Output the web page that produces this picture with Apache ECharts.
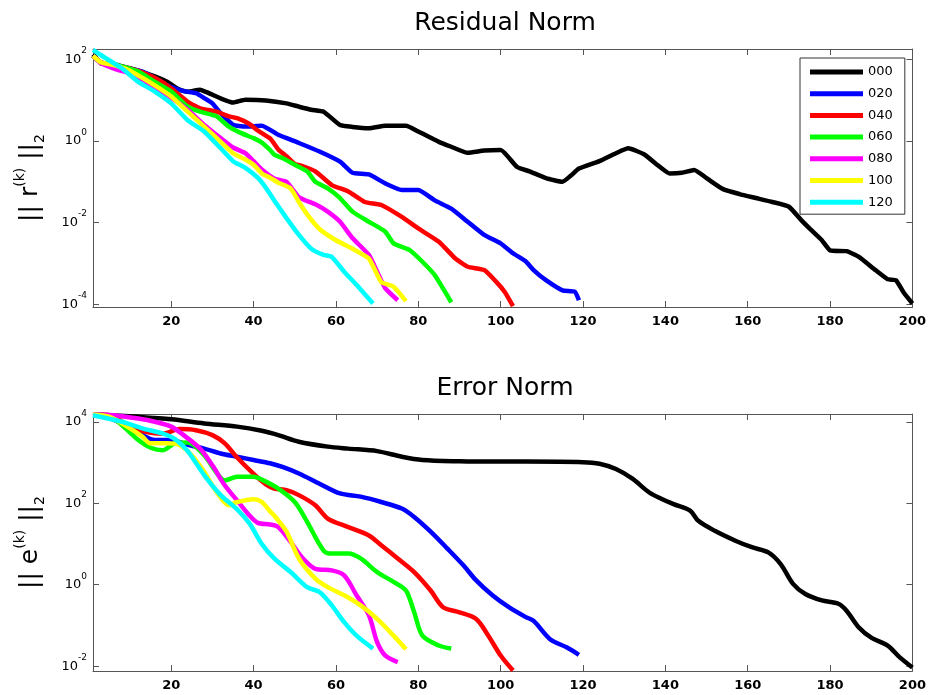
<!DOCTYPE html>
<html>
<head>
<meta charset="utf-8">
<script src="https://cdn.jsdelivr.net/npm/echarts@6/dist/echarts.min.js"></script>
<style>html,body{margin:0;padding:0;background:#fff}#c{width:929px;height:695px}</style>
</head>
<body>
<div id="c"></div>
<script>
const seriesNames = ['000','020','040','060','080','100','120'];
const seriesColors = ['#000000','#0000ff','#ff0000','#00ff00','#ff00ff','#ffff00','#00ffff'];
const xTicks = [20,40,60,80,100,120,140,160,180,200];
const resTicks = [1e-4,1e-2,1,1e2];
const errTicks = [1e-2,1,1e2,1e4];

// Residual norm ||r(k)||2 : [iteration, value]
const res000 = [[1,130],[2,100],[3,79],[5,79],[8,66],[12,52],[16,38],[19,28],[22,18],[24,16],[27,18],[29,15],[32,11],[35,8.7],[38,10.2],[43,9.8],[48,8.3],[51,6.9],[54,5.8],[57,5.2],[61,2.45],[64,2.2],[68,2.05],[72,2.35],[77,2.35],[80,1.7],[85,0.95],[88,0.72],[92,0.51],[96,0.58],[100,0.60],[104,0.23],[107,0.18],[111,0.123],[115,0.10],[117,0.14],[119,0.21],[124,0.32],[128,0.50],[131,0.66],[135,0.46],[138,0.26],[141,0.16],[144,0.166],[147,0.195],[150,0.123],[154,0.066],[158,0.050],[162,0.040],[166,0.032],[170,0.0245],[173,0.0115],[175,0.0072],[178,0.0037],[180,0.0021],[184,0.0020],[187,0.00145],[191,0.00069],[194,0.00041],[196,0.00039],[198,0.000186],[200,0.000105]];
const res020 = [[1,120],[3,83],[6,76],[10,60],[13,50],[16,35],[19,23],[23,16.6],[26,14.8],[28,11.2],[30,8.3],[32,4.8],[35,2.5],[38,2.24],[42,2.35],[46,1.41],[51,0.89],[56,0.55],[61,0.31],[64,0.166],[68,0.151],[72,0.091],[76,0.063],[80,0.063],[84,0.035],[88,0.022],[92,0.0105],[96,0.0050],[100,0.0031],[103,0.00178],[106,0.00115],[108,0.00069],[111,0.00039],[115,0.00022],[118,0.000204],[119,0.000126]];
const res040 = [[1,120],[3,83],[6,76],[9,63],[12,52],[16,35],[20,19.5],[24,9.1],[27,6.3],[31,5.2],[34,4.0],[36,3.6],[39,2.6],[41,1.8],[44,1.15],[46,0.62],[48,0.42],[50,0.275],[52,0.24],[55,0.18],[59,0.083],[63,0.058],[67,0.032],[71,0.027],[76,0.0138],[80,0.0072],[85,0.0034],[89,0.00132],[92,0.00083],[96,0.00069],[99,0.00035],[101,0.0002],[103,0.00009]];
const res060 = [[1,120],[3,83],[6,76],[9,63],[12,50],[16,28],[20,16.2],[24,6.9],[27,5.2],[31,4.0],[34,2.24],[37,1.55],[40,1.17],[42,0.91],[44,0.60],[45,0.46],[47,0.38],[50,0.26],[53,0.18],[55,0.10],[58,0.069],[61,0.040],[64,0.0186],[68,0.0105],[72,0.006],[74,0.0031],[78,0.0021],[81,0.0011],[84,0.00052],[86,0.000245],[88,0.000112]];
const res080 = [[1,120],[3,80],[7,55],[10,45],[12,35],[15,22],[17,16.2],[19,13.2],[24,5.8],[28,2.45],[32,1.17],[35,0.69],[38,0.50],[40,0.32],[42,0.20],[45,0.12],[48,0.10],[51,0.042],[55,0.028],[58,0.0186],[61,0.0105],[64,0.0042],[68,0.00162],[70,0.00063],[72,0.000245],[75,0.000126]];
const res100 = [[1,120],[3,83],[6,72],[9,58],[12,40],[16,23],[20,12.3],[24,5.2],[28,2.24],[32,0.95],[35,0.50],[38,0.35],[40,0.26],[42,0.16],[44,0.126],[46,0.095],[49,0.069],[51,0.032],[53,0.016],[56,0.007],[60,0.0037],[64,0.0023],[68,0.00132],[71,0.00035],[74,0.00027],[77,0.00012]];
const res120 = [[1,170],[3,125],[5,93],[8,60],[12,28],[16,16.2],[20,8.3],[24,3.2],[28,1.7],[32,0.66],[35,0.32],[38,0.22],[41,0.126],[43,0.071],[45,0.035],[48,0.0129],[51,0.0050],[54,0.0023],[57,0.00162],[59,0.00145],[62,0.00063],[65,0.0003],[69,0.000105]];

// Error norm ||e(k)||2 : [iteration, value]
const err000 = [[1,15100],[3,14800],[12,13200],[20,11500],[28,9100],[36,7600],[42,6000],[46,4700],[51,3240],[58,2450],[63,2190],[70,1900],[76,1380],[81,1150],[90,1070],[98,1050],[106,1050],[120,1020],[124,930],[128,690],[132,400],[136,186],[139,129],[142,95],[146,66],[148,37],[152,21],[157,12],[161,8.3],[165,6.2],[168,3.2],[171,1.05],[174,0.59],[178,0.41],[182,0.34],[184,0.23],[187,0.089],[190,0.05],[194,0.032],[197,0.0162],[200,0.0093]];
const err020 = [[1,15100],[3,14500],[8,9100],[13,4700],[16,3550],[20,3550],[24,2700],[28,2190],[32,1660],[36,1380],[40,1150],[44,955],[47,776],[51,537],[56,302],[61,174],[66,145],[71,107],[76,74],[79,46],[83,20],[87,7.8],[91,2.95],[94,1.29],[98,0.55],[102,0.28],[106,0.162],[108,0.129],[112,0.046],[116,0.029],[119,0.019]];
const err040 = [[1,15100],[5,14500],[10,7600],[14,5600],[18,5100],[22,6600],[26,6200],[30,4700],[33,2950],[36,1320],[40,525],[43,290],[45,230],[48,209],[51,158],[55,89],[58,42],[63,26],[68,16.2],[71,9.3],[75,4.4],[79,2.04],[83,0.72],[86,0.28],[90,0.21],[94,0.145],[97,0.056],[100,0.0182],[103,0.0078]];
const err060 = [[1,15100],[5,13800],[8,8300],[12,3550],[15,2300],[18,2000],[21,3000],[24,3100],[28,1510],[31,560],[33,363],[36,447],[40,447],[42,380],[46,229],[50,107],[53,35],[57,6.9],[59,5.8],[63,5.8],[66,4.4],[70,2.04],[74,1.17],[77,0.72],[79,0.21],[81,0.056],[85,0.032],[88,0.027]];
const err080 = [[1,15100],[6,14500],[12,12000],[16,10000],[20,7600],[23,4700],[27,2190],[30,850],[33,275],[36,117],[39,50],[41,33],[44,30],[46,26],[49,11.2],[52,4.4],[55,2.45],[59,2.24],[62,1.7],[65,0.55],[68,0.178],[70,0.039],[72,0.0182],[75,0.0126]];
const err100 = [[1,15100],[5,13200],[10,6900],[13,4300],[15,2950],[19,2950],[22,2700],[25,1510],[28,590],[31,190],[34,89],[36,107],[40,126],[42,107],[44,63],[45,50],[48,20],[51,4.4],[55,1.41],[58,0.87],[62,0.55],[66,0.31],[70,0.145],[74,0.056],[77,0.026]];
const err120 = [[1,14500],[8,10000],[13,6900],[18,5100],[21,3700],[24,1900],[28,490],[32,158],[36,71],[39,32],[42,10],[45,4.4],[49,2.04],[53,0.87],[56,0.66],[59,0.31],[62,0.12],[65,0.056],[69,0.027]];

const resSeries = [res000,res020,res040,res060,res080,res100,res120];
const errSeries = [err000,err020,err040,err060,err080,err100,err120];

const FONT = 'DejaVu Sans';
const axisColor = '#555';

function powLabel(v){
  const e = Math.round(Math.log10(v));
  return '{b|10}{s|' + e + '}';
}
const powRich = {
  b:{fontSize:13, fontFamily:FONT, color:'#000', lineHeight:26},
  s:{fontSize:9, fontFamily:FONT, color:'#000', lineHeight:9, verticalAlign:'top'}
};

function xAxes(grid){
  return [
    {type:'value', gridIndex:grid, min:1, max:200, position:'bottom',
     axisLine:{show:true, onZero:false, lineStyle:{color:axisColor, width:1}},
     axisTick:{show:true, inside:true, length:6, customValues:xTicks, lineStyle:{color:axisColor}},
     axisLabel:{show:true, customValues:xTicks, margin:8, fontSize:13, fontWeight:'bold', fontFamily:FONT, color:'#000'},
     splitLine:{show:false}},
    {type:'value', gridIndex:grid, min:1, max:200, position:'top',
     axisLine:{show:true, onZero:false, lineStyle:{color:axisColor, width:1}},
     axisTick:{show:true, inside:true, length:6, customValues:xTicks, lineStyle:{color:axisColor}},
     axisLabel:{show:false},
     splitLine:{show:false}}
  ];
}
function yAxes(grid, mn, mx, ticks, nameRich){
  return [
    {type:'log', logBase:10, gridIndex:grid, min:mn, max:mx, position:'left',
     name:nameRich, nameLocation:'middle', nameRotate:90, nameGap:46,
     nameTextStyle:{rich:{
       n:{fontSize:25, fontFamily:FONT, color:'#000', lineHeight:34},
       sup:{fontSize:14, fontFamily:FONT, color:'#000', lineHeight:14, verticalAlign:'top'},
       sub:{fontSize:14, fontFamily:FONT, color:'#000', lineHeight:14, verticalAlign:'bottom'}
     }},
     axisLine:{show:true, onZero:false, lineStyle:{color:axisColor, width:1}},
     axisTick:{show:true, inside:true, length:6, customValues:ticks, lineStyle:{color:axisColor}},
     axisLabel:{show:true, customValues:ticks, margin:6, formatter:powLabel, rich:powRich},
     splitLine:{show:false}, minorTick:{show:false}},
    {type:'log', logBase:10, gridIndex:grid, min:mn, max:mx, position:'right',
     axisLine:{show:true, onZero:false, lineStyle:{color:axisColor, width:1}},
     axisTick:{show:true, inside:true, length:6, customValues:ticks, lineStyle:{color:axisColor}},
     axisLabel:{show:false},
     splitLine:{show:false}}
  ];
}

const series = [];
seriesNames.forEach((nm,i)=>{
  series.push({name:nm, type:'line', xAxisIndex:0, yAxisIndex:0, data:resSeries[i], smooth:0.15,
    showSymbol:false, symbol:'none', lineStyle:{width:4.5, color:seriesColors[i]}, itemStyle:{color:seriesColors[i]}});
});
seriesNames.forEach((nm,i)=>{
  series.push({name:nm, type:'line', xAxisIndex:2, yAxisIndex:2, data:errSeries[i], smooth:0.3,
    showSymbol:false, symbol:'none', lineStyle:{width:4.5, color:seriesColors[i]}, itemStyle:{color:seriesColors[i]}});
});

const chart = echarts.init(document.getElementById('c'), null, {renderer:'canvas'});
chart.setOption({
  animation:false,
  backgroundColor:'#fff',
  title:[
    {text:'Residual Norm', left:505, top:8, textAlign:'center', padding:0,
     textStyle:{fontSize:25, fontWeight:'normal', fontFamily:FONT, color:'#000', lineHeight:30}},
    {text:'Error Norm', left:505, top:373, textAlign:'center', padding:0,
     textStyle:{fontSize:25, fontWeight:'normal', fontFamily:FONT, color:'#000', lineHeight:30}}
  ],
  legend:{
    data:seriesNames, left:800, top:58, orient:'vertical', icon:'rect',
    itemWidth:53, itemHeight:5, itemGap:7.7, padding:[7,12,5,10],
    borderColor:'#333', borderWidth:1, backgroundColor:'#fff', selectedMode:false,
    textStyle:{fontSize:13, fontFamily:FONT, color:'#000', lineHeight:14}
  },
  grid:[
    {left:93, top:49, width:820, height:258},
    {left:93, top:414, width:820, height:257}
  ],
  xAxis:[...xAxes(0), ...xAxes(1)],
  yAxis:[
    ...yAxes(0, 8.6e-5, 178, resTicks, '{n|||}{n| r}{sup|(k)}{n| ||}{sub|2}'),
    ...yAxes(1, 0.0076, 15500, errTicks, '{n|||}{n| e}{sup|(k)}{n| ||}{sub|2}')
  ],
  series:series
});
</script>
</body>
</html>
